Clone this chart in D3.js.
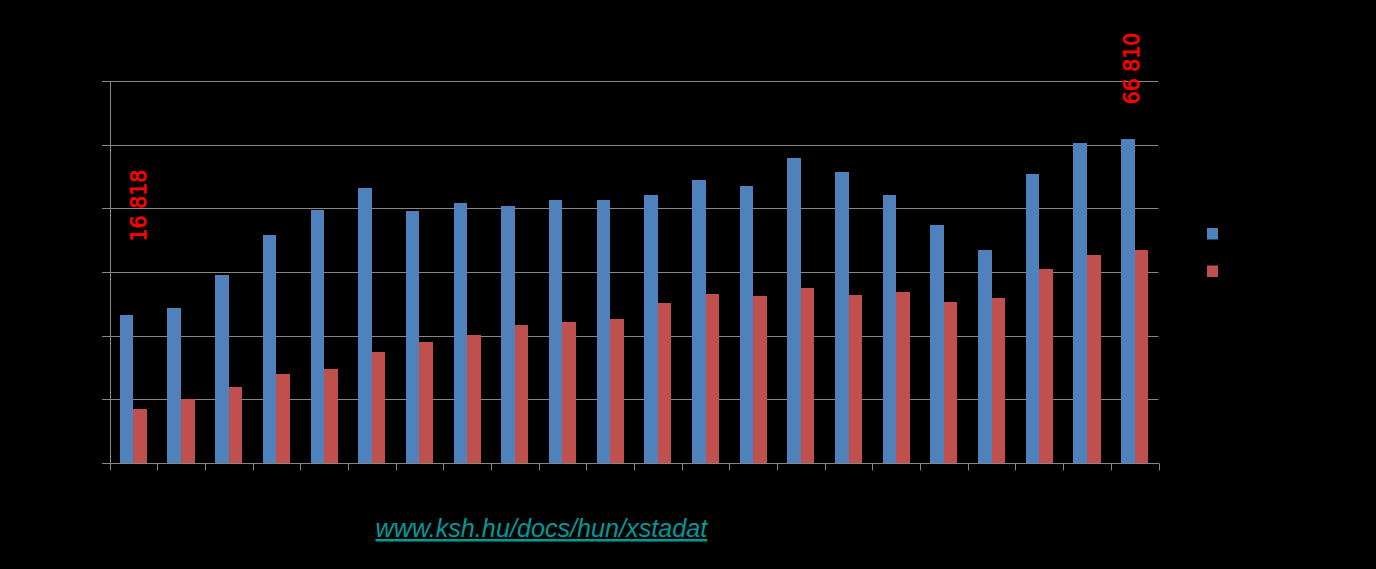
<!DOCTYPE html>
<html>
<head>
<meta charset="utf-8">
<script src="https://cdn.jsdelivr.net/npm/d3@7"></script>
<style>
  html, body { margin: 0; padding: 0; background: #000; }
  svg { display: block; }
</style>
</head>
<body>
<svg id="chart" width="1376" height="569"></svg>
<script>
// ---- data ----
const categories = ["1990","1991","1992","1993","1994","1995","1996","1997","1998","1999","2000",
                    "2001","2002","2003","2004","2005","2006","2007","2008","2009","2010","2011"];
const seriesNames = ["A", "B"];
const seriesA = [46500, 48700, 59050, 71600, 79500, 86400, 79150, 81700, 80700, 82600, 82600,
                 84200, 88900, 87000, 95800, 91400, 84200, 74800, 66900, 90800, 100500, 101800];
const seriesB = [16818, 20100, 23900, 28000, 29500, 34900, 38000, 40200, 43350, 44300, 45200,
                 50300, 53100, 52500, 55000, 52800, 53700, 50600, 51800, 60900, 65300, 66810];
const yTicks = [0, 20000, 40000, 60000, 80000, 100000, 120000];
const annotated = [0, 21];   // indices of series B values that are labelled
const sourceText = "www.ksh.hu/docs/hun/xstadat";

// ---- layout ----
const colors = ["#4F81BD", "#C0504D"];
const gridColor = "#868686";
const pLeft = 109.5, pRight = 1158.5, pTop = 81, pBottom = 463;

const svg = d3.select("#chart");
svg.append("rect").attr("width", 1376).attr("height", 569).attr("fill", "#000");

const x = d3.scaleBand().domain(categories).range([pLeft, pRight]).padding(0);
const xs = d3.scaleBand().domain(seriesNames)
  .range([x.bandwidth() * 0.216, x.bandwidth() * 0.784]).padding(0);
const y = d3.scaleLinear().domain([0, 120000]).range([pBottom, pTop]);

const px = v => Math.round(v) + 0.5;

// gridlines
svg.append("g").selectAll("line").data(yTicks.filter(d => d > 0)).join("line")
  .attr("x1", pLeft - 7.5).attr("x2", pRight)
  .attr("y1", d => px(y(d))).attr("y2", d => px(y(d)))
  .attr("stroke", gridColor).attr("stroke-width", 1);

// bars
const series = [seriesA, seriesB];
const g = svg.append("g").attr("shape-rendering", "crispEdges");
series.forEach((vals, si) => {
  g.append("g").selectAll("rect").data(vals).join("rect")
    .attr("x", (d, i) => x(categories[i]) + xs(seriesNames[si]))
    .attr("width", xs.bandwidth())
    .attr("y", d => y(d))
    .attr("height", d => y(0) - y(d))
    .attr("fill", colors[si]);
});

// y axis
svg.append("line").attr("x1", px(pLeft)).attr("x2", px(pLeft))
  .attr("y1", y(120000)).attr("y2", px(y(0))).attr("stroke", gridColor);
svg.append("g").selectAll("line").data(yTicks).join("line")
  .attr("x1", pLeft - 7.5).attr("x2", px(pLeft))
  .attr("y1", d => px(y(d))).attr("y2", d => px(y(d)))
  .attr("stroke", gridColor);

// x axis with ticks at category boundaries
const boundaries = categories.map(c => x(c)).concat([pRight]);
svg.append("line").attr("x1", pLeft - 7.5).attr("x2", pRight + 0.5)
  .attr("y1", px(y(0))).attr("y2", px(y(0))).attr("stroke", gridColor);
svg.append("g").selectAll("line").data(boundaries).join("line")
  .attr("x1", d => px(d)).attr("x2", d => px(d))
  .attr("y1", px(y(0))).attr("y2", px(y(0)) + 7)
  .attr("stroke", gridColor);

// annotations (rotated red values)
const fmt = v => d3.format(",")(v).replace(/,/g, " ");
const annOffsets = [{dx: 6, dy: -168}, {dx: -2.5, dy: -146}];
annotated.forEach((idx, k) => {
  const cx = x(categories[idx]) + xs(seriesNames[1]) + xs.bandwidth() / 2 + annOffsets[k].dx;
  const cy = y(seriesB[idx]) + annOffsets[k].dy;
  svg.append("text")
    .attr("transform", `translate(${cx},${cy}) rotate(-90)`)
    .attr("font-family", "DejaVu Sans")
    .attr("font-size", 20.5)
    .attr("fill", "#FF0000")
    .attr("stroke", "#FF0000")
    .attr("stroke-width", 0.7)
    .attr("text-anchor", "start")
    .text(fmt(seriesB[idx]));
});

// legend markers
const legend = svg.append("g").attr("transform", "translate(1207,228)");
seriesNames.forEach((s, i) => {
  legend.append("rect").attr("x", 0).attr("y", i * 37.5)
    .attr("width", 11).attr("height", 11.5).attr("fill", colors[i]);
});

// source link
svg.append("text")
  .attr("x", 375.5).attr("y", 537)
  .attr("font-family", "Liberation Sans, Arial, sans-serif")
  .attr("font-style", "italic")
  .attr("font-size", 25.2)
  .attr("fill", "#009999")
  .attr("text-decoration", "underline")
  .text(sourceText);
</script>
</body>
</html>
